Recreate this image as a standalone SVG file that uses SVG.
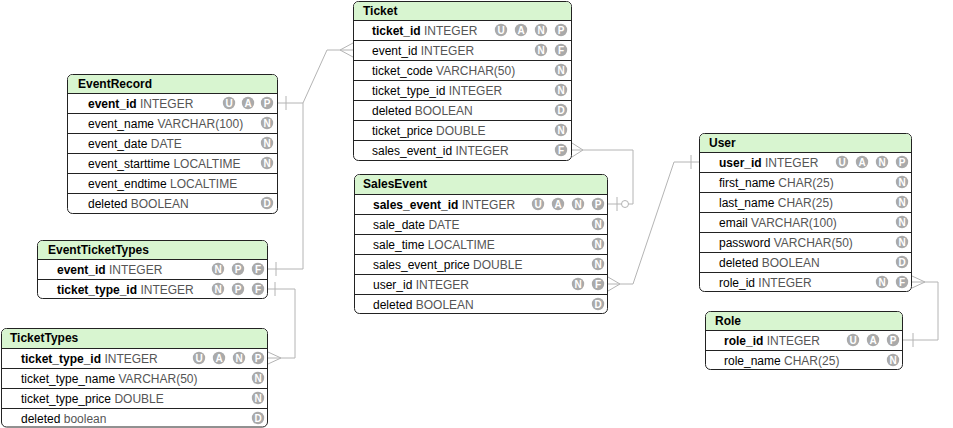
<svg xmlns="http://www.w3.org/2000/svg" width="953" height="428" viewBox="0 0 953 428">
<style>
  text { font-family: "Liberation Sans", Arial, sans-serif; font-size: 12px; }
  .box { fill: #ffffff; stroke: #222; stroke-width: 1; }
  .hd { fill: #d8f5d0; }
  .sep { stroke: #222; stroke-width: 1; }
  .title { font-weight: bold; fill: #000; }
  .n { fill: #000; }
  .pk { fill: #000; font-weight: bold; }
  .t { fill: #555; }
  .ic circle { fill: #aaaaaa; }
  .ic text { fill: #fff; font-size: 10px; font-weight: bold; text-anchor: middle; }
  .cn { fill: none; stroke: #b4b4b4; stroke-width: 1; }
</style>
<defs>
  <g id="U" class="ic"><circle r="6.2"/><text y="3.6">U</text></g>
  <g id="A" class="ic"><circle r="6.2"/><text y="3.6">A</text></g>
  <g id="N" class="ic"><circle r="6.2"/><text y="3.6">N</text></g>
  <g id="P" class="ic"><circle r="6.2"/><text y="3.6">P</text></g>
  <g id="F" class="ic"><circle r="6.2"/><text y="3.6">F</text></g>
  <g id="D" class="ic"><circle r="6.2"/><text y="3.6">D</text></g>
</defs>

<g id="connectors">
  <!-- EventRecord.event_id -> Ticket.event_id -->
  <path class="cn" d="M278,103 H303 L327,50 H353"/>
  <path class="cn" d="M286,96 V110"/>
  <path class="cn" d="M353,43 L340,50 L353,57"/>
  <!-- EventRecord.event_id -> EventTicketTypes.event_id -->
  <path class="cn" d="M303,103 V269 H268"/>
  <path class="cn" d="M276,262 V276"/>
  <!-- EventTicketTypes.ticket_type_id -> TicketTypes.ticket_type_id -->
  <path class="cn" d="M268,289 H295 V358 H268"/>
  <path class="cn" d="M275,282 V296"/>
  <path class="cn" d="M268,352 L281,358 L268,364"/>
  <!-- Ticket.sales_event_id -> SalesEvent.sales_event_id -->
  <path class="cn" d="M572,150 H633 V204 H608"/>
  <path class="cn" d="M572,143 L583,150 L572,157"/>
  <path class="cn" d="M617,197 V211"/>
  <circle class="cn" cx="625" cy="204" r="3.5" style="fill:#fff"/>
  <!-- SalesEvent.user_id -> User.user_id -->
  <path class="cn" d="M608,284 H633 L674,162 H699"/>
  <path class="cn" d="M608,277 L620,284 L608,291"/>
  <path class="cn" d="M691,155 V169"/>
  <!-- User.role_id -> Role.role_id -->
  <path class="cn" d="M912,282 H938 V340 H903"/>
  <path class="cn" d="M912,276 L925,282 L912,288"/>
  <path class="cn" d="M913,333 V347"/>
</g>

<!-- Ticket -->
<g id="Ticket">
  <rect class="box" x="353.5" y="1.5" width="218" height="159" rx="5"/>
  <path class="hd" d="M359,2 H566 Q571,2 571,7 V20 H354 V7 Q354,2 359,2 Z"/>
  <path class="sep" d="M353.5,20.5 H571.5 M353.5,40.5 H571.5 M353.5,60.5 H571.5 M353.5,80.5 H571.5 M353.5,100.5 H571.5 M353.5,120.5 H571.5 M353.5,140.5 H571.5"/>
  <text class="title" x="363" y="15">Ticket</text>
  <text x="372" y="35"><tspan class="pk">ticket_id</tspan><tspan class="t"> INTEGER</tspan></text>
  <text x="372" y="55"><tspan class="n">event_id</tspan><tspan class="t"> INTEGER</tspan></text>
  <text x="372" y="75"><tspan class="n">ticket_code</tspan><tspan class="t"> VARCHAR(50)</tspan></text>
  <text x="372" y="95"><tspan class="n">ticket_type_id</tspan><tspan class="t"> INTEGER</tspan></text>
  <text x="372" y="115"><tspan class="n">deleted</tspan><tspan class="t"> BOOLEAN</tspan></text>
  <text x="372" y="135"><tspan class="n">ticket_price</tspan><tspan class="t"> DOUBLE</tspan></text>
  <text x="372" y="155"><tspan class="n">sales_event_id</tspan><tspan class="t"> INTEGER</tspan></text>
  <use href="#U" x="501" y="30"/><use href="#A" x="521" y="30"/><use href="#N" x="541" y="30"/><use href="#P" x="561" y="30"/>
  <use href="#N" x="541" y="50"/><use href="#F" x="561" y="50"/>
  <use href="#N" x="561" y="70"/>
  <use href="#N" x="561" y="90"/>
  <use href="#D" x="561" y="110"/>
  <use href="#N" x="561" y="130"/>
  <use href="#F" x="561" y="150"/>
</g>

<!-- EventRecord -->
<g id="EventRecord">
  <rect class="box" x="67.5" y="74.5" width="210" height="139" rx="5"/>
  <path class="hd" d="M73,75 H272 Q277,75 277,80 V93 H68 V80 Q68,75 73,75 Z"/>
  <path class="sep" d="M67.5,93.5 H277.5 M67.5,113.5 H277.5 M67.5,133.5 H277.5 M67.5,153.5 H277.5 M67.5,173.5 H277.5 M67.5,193.5 H277.5"/>
  <text class="title" x="78" y="88">EventRecord</text>
  <text x="88" y="108"><tspan class="pk">event_id</tspan><tspan class="t"> INTEGER</tspan></text>
  <text x="88" y="128"><tspan class="n">event_name</tspan><tspan class="t"> VARCHAR(100)</tspan></text>
  <text x="88" y="148"><tspan class="n">event_date</tspan><tspan class="t"> DATE</tspan></text>
  <text x="88" y="168"><tspan class="n">event_starttime</tspan><tspan class="t"> LOCALTIME</tspan></text>
  <text x="88" y="188"><tspan class="n">event_endtime</tspan><tspan class="t"> LOCALTIME</tspan></text>
  <text x="88" y="208"><tspan class="n">deleted</tspan><tspan class="t"> BOOLEAN</tspan></text>
  <use href="#U" x="229" y="103"/><use href="#A" x="248" y="103"/><use href="#P" x="267" y="103"/>
  <use href="#N" x="267" y="123"/>
  <use href="#N" x="267" y="143"/>
  <use href="#N" x="267" y="163"/>
  <use href="#D" x="267" y="203"/>
</g>

<!-- EventTicketTypes -->
<g id="EventTicketTypes">
  <rect class="box" x="37.5" y="240.5" width="230" height="58" rx="5"/>
  <path class="hd" d="M43,241 H262 Q267,241 267,246 V259 H38 V246 Q38,241 43,241 Z"/>
  <path class="sep" d="M37.5,259.5 H267.5 M37.5,279.5 H267.5"/>
  <text class="title" x="48" y="254">EventTicketTypes</text>
  <text x="57" y="274"><tspan class="pk">event_id</tspan><tspan class="t"> INTEGER</tspan></text>
  <text x="57" y="294"><tspan class="pk">ticket_type_id</tspan><tspan class="t"> INTEGER</tspan></text>
  <use href="#N" x="218" y="269"/><use href="#P" x="238" y="269"/><use href="#F" x="258" y="269"/>
  <use href="#N" x="218" y="289"/><use href="#P" x="238" y="289"/><use href="#F" x="258" y="289"/>
</g>

<!-- TicketTypes -->
<g id="TicketTypes">
  <rect class="box" x="1.5" y="328.5" width="266" height="98.5" rx="5"/>
  <path class="hd" d="M7,329 H262 Q267,329 267,334 V348 H2 V334 Q2,329 7,329 Z"/>
  <path class="sep" d="M1.5,348.5 H267.5 M1.5,368.5 H267.5 M1.5,388.5 H267.5 M1.5,408.5 H267.5"/>
  <text class="title" x="10" y="342">TicketTypes</text>
  <text x="21" y="363"><tspan class="pk">ticket_type_id</tspan><tspan class="t"> INTEGER</tspan></text>
  <text x="21" y="383"><tspan class="n">ticket_type_name</tspan><tspan class="t"> VARCHAR(50)</tspan></text>
  <text x="21" y="403"><tspan class="n">ticket_type_price</tspan><tspan class="t"> DOUBLE</tspan></text>
  <text x="21" y="423"><tspan class="n">deleted</tspan><tspan class="t"> boolean</tspan></text>
  <use href="#U" x="199" y="358"/><use href="#A" x="219" y="358"/><use href="#N" x="239" y="358"/><use href="#P" x="258" y="358"/>
  <use href="#N" x="258" y="378"/>
  <use href="#N" x="258" y="398"/>
  <use href="#D" x="258" y="418"/>
</g>

<!-- SalesEvent -->
<g id="SalesEvent">
  <rect class="box" x="354.5" y="174.5" width="253" height="139" rx="5"/>
  <path class="hd" d="M360,175 H602 Q607,175 607,180 V194 H355 V180 Q355,175 360,175 Z"/>
  <path class="sep" d="M354.5,194.5 H607.5 M354.5,214.5 H607.5 M354.5,234.5 H607.5 M354.5,254.5 H607.5 M354.5,274.5 H607.5 M354.5,294.5 H607.5"/>
  <text class="title" x="363" y="188">SalesEvent</text>
  <text x="373" y="209"><tspan class="pk">sales_event_id</tspan><tspan class="t"> INTEGER</tspan></text>
  <text x="373" y="229"><tspan class="n">sale_date</tspan><tspan class="t"> DATE</tspan></text>
  <text x="373" y="249"><tspan class="n">sale_time</tspan><tspan class="t"> LOCALTIME</tspan></text>
  <text x="373" y="269"><tspan class="n">sales_event_price</tspan><tspan class="t"> DOUBLE</tspan></text>
  <text x="373" y="289"><tspan class="n">user_id</tspan><tspan class="t"> INTEGER</tspan></text>
  <text x="373" y="309"><tspan class="n">deleted</tspan><tspan class="t"> BOOLEAN</tspan></text>
  <use href="#U" x="538" y="204"/><use href="#A" x="558" y="204"/><use href="#N" x="578" y="204"/><use href="#P" x="598" y="204"/>
  <use href="#N" x="598" y="224"/>
  <use href="#N" x="598" y="244"/>
  <use href="#N" x="598" y="264"/>
  <use href="#N" x="578" y="284"/><use href="#F" x="598" y="284"/>
  <use href="#D" x="598" y="304"/>
</g>

<!-- User -->
<g id="User">
  <rect class="box" x="699.5" y="133.5" width="212" height="158" rx="5"/>
  <path class="hd" d="M705,134 H906 Q911,134 911,139 V152 H700 V139 Q700,134 705,134 Z"/>
  <path class="sep" d="M699.5,152.5 H911.5 M699.5,172.5 H911.5 M699.5,192.5 H911.5 M699.5,212.5 H911.5 M699.5,232.5 H911.5 M699.5,252.5 H911.5 M699.5,272.5 H911.5"/>
  <text class="title" x="709" y="147">User</text>
  <text x="719" y="167"><tspan class="pk">user_id</tspan><tspan class="t"> INTEGER</tspan></text>
  <text x="719" y="187"><tspan class="n">first_name</tspan><tspan class="t"> CHAR(25)</tspan></text>
  <text x="719" y="207"><tspan class="n">last_name</tspan><tspan class="t"> CHAR(25)</tspan></text>
  <text x="719" y="227"><tspan class="n">email</tspan><tspan class="t"> VARCHAR(100)</tspan></text>
  <text x="719" y="247"><tspan class="n">password</tspan><tspan class="t"> VARCHAR(50)</tspan></text>
  <text x="719" y="267"><tspan class="n">deleted</tspan><tspan class="t"> BOOLEAN</tspan></text>
  <text x="719" y="287"><tspan class="n">role_id</tspan><tspan class="t"> INTEGER</tspan></text>
  <use href="#U" x="842" y="162"/><use href="#A" x="862" y="162"/><use href="#N" x="882" y="162"/><use href="#P" x="902" y="162"/>
  <use href="#N" x="902" y="182"/>
  <use href="#N" x="902" y="202"/>
  <use href="#N" x="902" y="222"/>
  <use href="#N" x="902" y="242"/>
  <use href="#D" x="902" y="262"/>
  <use href="#N" x="882" y="282"/><use href="#F" x="902" y="282"/>
</g>

<!-- Role -->
<g id="Role">
  <rect class="box" x="705.5" y="311.5" width="197" height="58" rx="5"/>
  <path class="hd" d="M711,312 H897 Q902,312 902,317 V330 H706 V317 Q706,312 711,312 Z"/>
  <path class="sep" d="M705.5,330.5 H902.5 M705.5,350.5 H902.5"/>
  <text class="title" x="715" y="325">Role</text>
  <text x="724" y="345"><tspan class="pk">role_id</tspan><tspan class="t"> INTEGER</tspan></text>
  <text x="724" y="365"><tspan class="n">role_name</tspan><tspan class="t"> CHAR(25)</tspan></text>
  <use href="#U" x="853" y="340"/><use href="#A" x="873" y="340"/><use href="#P" x="893" y="340"/>
  <use href="#N" x="893" y="360"/>
</g>
</svg>
